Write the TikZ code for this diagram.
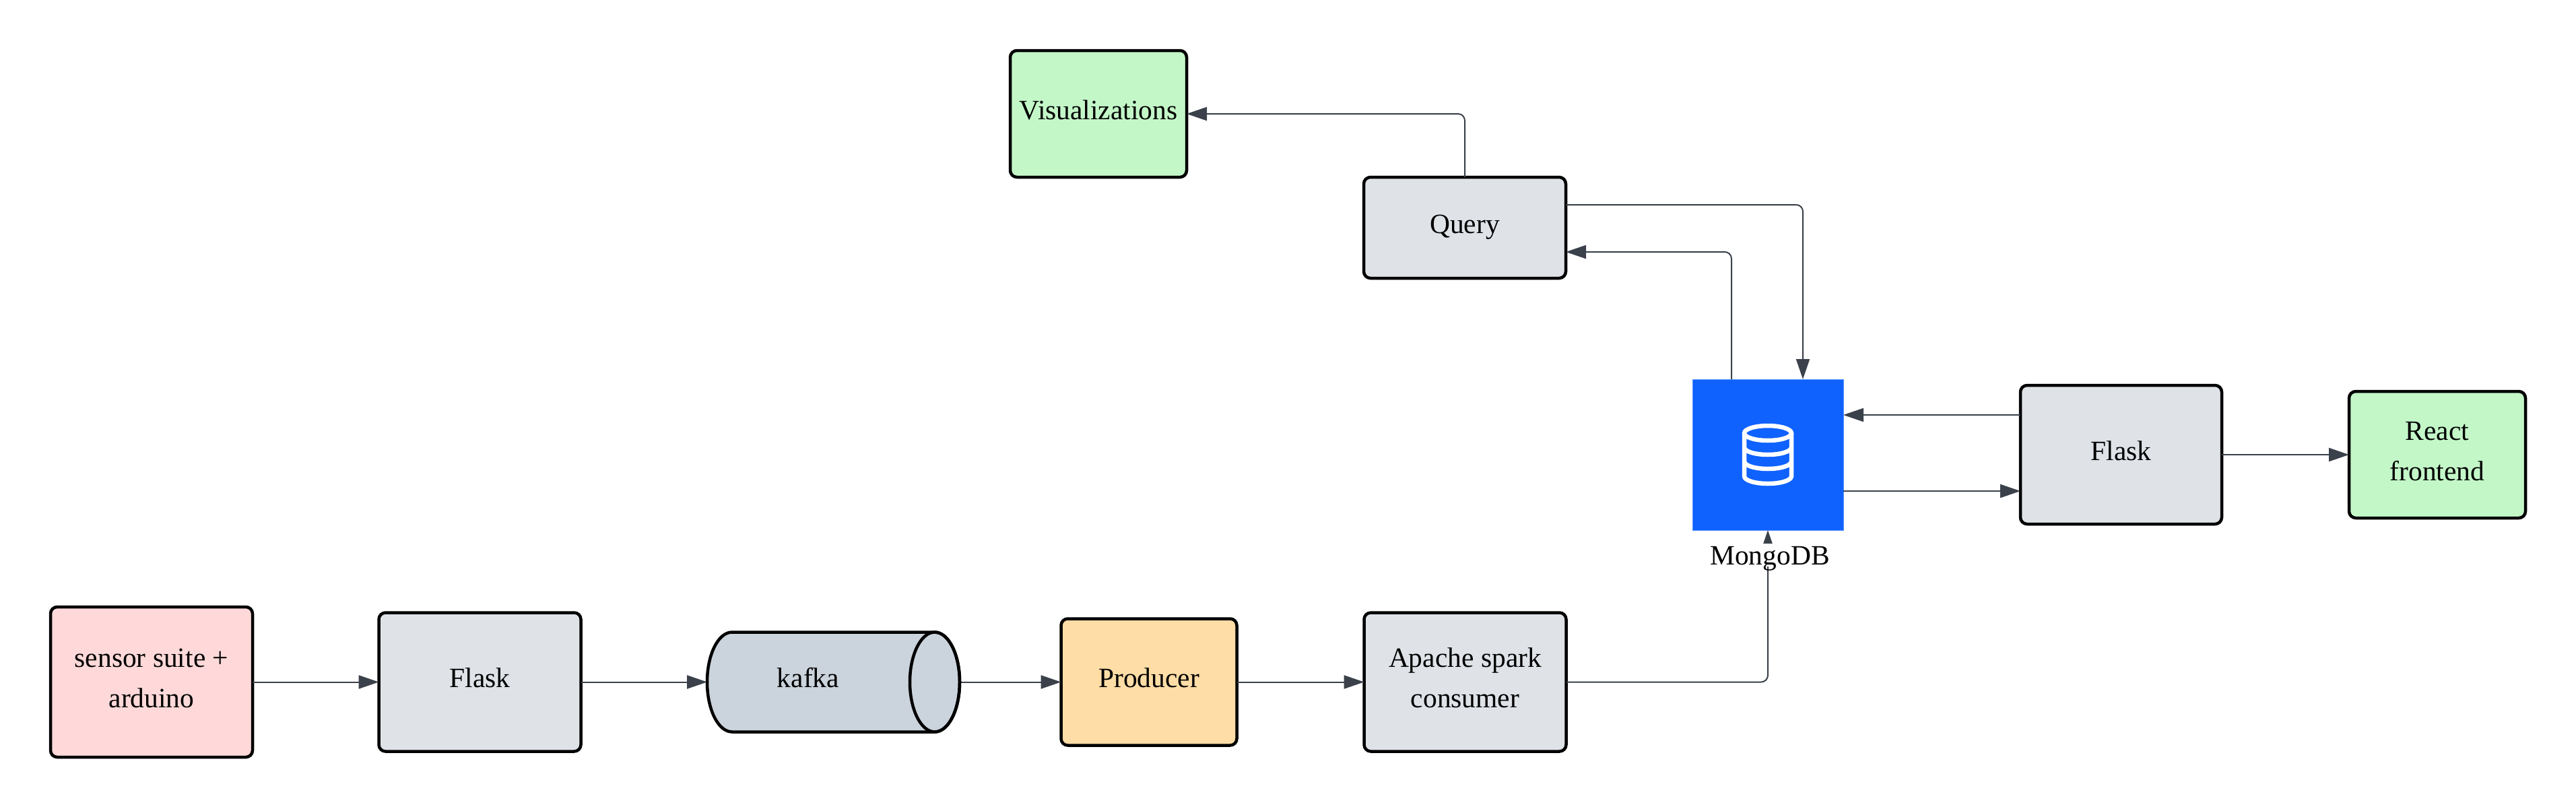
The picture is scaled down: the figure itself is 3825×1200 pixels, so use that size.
\documentclass[tikz,border=0pt]{standalone}
\usepackage{fontspec}
\setmainfont{Liberation Serif}
\usetikzlibrary{arrows.meta,calc}
\definecolor{linecol}{HTML}{3A414A}
\definecolor{graybox}{HTML}{DFE3E8}
\definecolor{greenbox}{HTML}{C3F7C8}
\definecolor{pinkbox}{HTML}{FFD9D9}
\definecolor{orangebox}{HTML}{FFDDA6}
\definecolor{slatebox}{HTML}{CBD3DC}
\definecolor{mongoblue}{HTML}{0F62FE}
\newcommand\onel[1]{\makebox[0pt]{\raisebox{-8pt}[0pt][0pt]{#1}}}
\newcommand\twol[2]{\makebox[0pt]{\raisebox{22pt}[0pt][0pt]{#1}}\makebox[0pt]{\raisebox{-38pt}[0pt][0pt]{#2}}}
\tikzset{
  box/.style={draw=black,line width=4.5pt,rounded corners=10pt,inner sep=0pt,outer sep=0pt},
  link/.style={draw=linecol,line width=2pt,rounded corners=10pt,-{Triangle[length=30pt,width=20pt]}},
}
\begin{document}
\begin{tikzpicture}[x=1pt,y=-1pt,font=\fontsize{41.5}{60}\selectfont]
\useasboundingbox (0,0) rectangle (3825,1200);
\fill[white] (0,0) rectangle (3825,1200);

% shapes
\node[box,fill=pinkbox,minimum width=300pt,minimum height=223pt] (sensor) at (225,1012.5) {\twol{sensor suite +}{arduino}};
\node[box,fill=graybox,minimum width=300pt,minimum height=206pt] (flaskA) at (712.5,1012.5) {\onel{Flask}};
\node[inner sep=0pt,outer sep=0pt,minimum width=375pt,minimum height=151pt] (kafka) at (1237.5,1012.5) {};
\node[box,fill=orangebox,minimum width=261pt,minimum height=188pt] (producer) at (1706,1012.5) {\onel{Producer}};
\node[box,fill=graybox,minimum width=300pt,minimum height=206pt] (spark) at (2175.5,1012.5) {\twol{Apache spark}{consumer}};
\node[draw=mongoblue!70!white,line width=1pt,fill=mongoblue,inner sep=0pt,outer sep=0pt,minimum width=224pt,minimum height=224pt] (mongo) at (2625,675) {};
\node[box,fill=graybox,minimum width=299pt,minimum height=206pt] (flaskB) at (3149.5,675) {\onel{Flask}};
\node[box,fill=greenbox,minimum width=262pt,minimum height=188pt] (react) at (3619,675) {\twol{React}{frontend}};
\node[box,fill=graybox,minimum width=300pt,minimum height=150pt] (query) at (2175,338) {\onel{Query}};
\node[box,fill=greenbox,minimum width=262pt,minimum height=188pt] (vis) at (1631,169) {\onel{Visualizations}};

% connectors
\draw[link] (sensor.east) -- (flaskA.west);
\draw[link] (flaskA.east) -- (kafka.west);
\draw[link] (kafka.east) -- (producer.west);
\draw[link] (producer.east) -- (spark.west);
\draw[link] (spark.east) -| (mongo.south);
\draw[link] (mongo.east |- 0,729) -- (flaskB.west |- 0,729);
\draw[link] (flaskB.west |- 0,616) -- (mongo.east |- 0,616);
\draw[link] (flaskB.east) -- (react.west);
\draw[link] (query.north) |- (vis.east);
\draw[link] (query.east |- 0,304) -| ([xshift=52pt]mongo.north);
\draw[link] ([xshift=-54pt]mongo.north) |- (query.east |- 0,374);

% kafka cylinder
\draw[black,line width=4.5pt,fill=slatebox]
  (1087,938.5) -- (1388,938.5) arc[start angle=90,end angle=-90,x radius=37pt,y radius=74pt]
  -- (1087,1086.5) arc[start angle=270,end angle=90,x radius=37pt,y radius=74pt] -- cycle;
\draw[black,line width=4.5pt] (1388,1012.5) ellipse[x radius=37pt,y radius=74pt];
\node[inner sep=0pt] (kafkatext) at (1200,1012.5) {\onel{kafka}};

% database icon
\draw[white,line width=6.5pt] (2625,643) ellipse[x radius=35pt,y radius=11pt];
\draw[white,line width=6.5pt]
  (2590,643) -- (2590,707) arc[start angle=180,end angle=360,x radius=35pt,y radius=11pt] -- (2660,643);
\draw[white,line width=6.5pt] (2590,664) arc[start angle=180,end angle=360,x radius=35pt,y radius=11pt];
\draw[white,line width=6.5pt] (2590,685) arc[start angle=180,end angle=360,x radius=35pt,y radius=11pt];

% label over the incoming arrow
\node[fill=white,inner sep=0pt,outer sep=0pt,anchor=base,text height=31pt,text depth=3pt] (mongolabel) at (2625,838) {\hspace{6pt}MongoDB\hspace{6pt}};
\end{tikzpicture}
\end{document}
